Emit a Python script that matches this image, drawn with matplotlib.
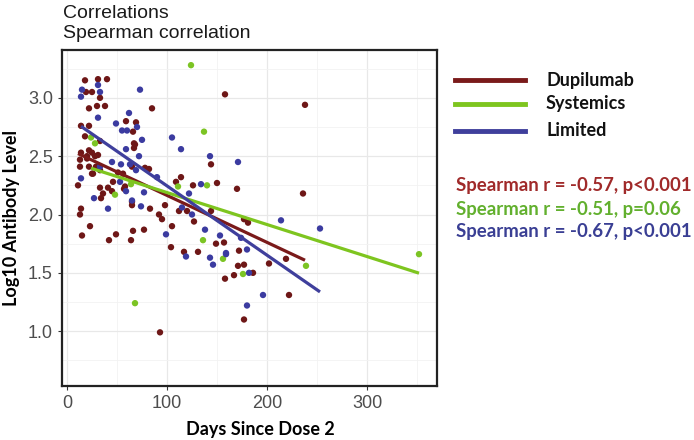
import numpy as np
import matplotlib
matplotlib.use("Agg")
import matplotlib.pyplot as plt
from matplotlib.ticker import MultipleLocator

# Dupilumab
dup_x = [18, 31, 40, 19, 25, 33, 22, 30, 38, 85, 14, 22, 59, 69, 66, 68, 67, 18, 33, 67,
         22, 25, 20, 28, 31, 14, 13, 13, 20, 22, 25, 29, 33, 26,
         11, 33, 41, 46, 45, 36, 34, 58, 51, 56, 65, 78, 82, 57,
         65, 65, 83, 98, 92, 95, 105, 14, 13, 23, 15, 49, 66, 77, 42, 64, 104, 109, 93,
         158, 238, 144, 114, 126, 150, 170, 236, 112, 120, 144, 127, 177, 181, 149, 157,
         117, 131, 172, 202, 219, 222, 177, 171, 177, 186, 158, 167]
dup_y = [3.15, 3.16, 3.16, 3.05, 3.05, 3.00, 2.91, 2.93, 2.93, 2.91, 2.76, 2.76, 2.80, 2.79, 2.71, 2.60, 2.57, 2.67, 2.63, 2.61,
         2.55, 2.53, 2.50, 2.50, 2.51, 2.53, 2.47, 2.41, 2.48, 2.41, 2.35, 2.41, 2.38, 2.35,
         2.25, 2.23, 2.23, 2.28, 2.20, 2.18, 2.14, 2.24, 2.36, 2.35, 2.41, 2.40, 2.39, 2.22,
         2.11, 2.08, 2.05, 2.08, 2.00, 1.96, 1.90, 2.05, 2.00, 1.90, 1.82, 1.83, 1.86, 1.87, 1.78, 1.78, 1.72, 2.28, 0.99,
         3.03, 2.94, 2.43, 2.32, 2.25, 2.27, 2.22, 2.18, 2.03, 2.03, 2.03, 1.94, 1.96, 1.93, 1.75, 1.76,
         1.68, 1.68, 1.69, 1.58, 1.62, 1.31, 1.10, 1.56, 1.57, 1.50, 1.45, 1.48]

# Systemics
sys_x = [124, 137, 28, 24, 64, 48, 111, 140, 136, 156, 176, 239, 352, 68]
sys_y = [3.28, 2.71, 2.61, 2.66, 2.26, 2.17, 2.24, 2.25, 1.78, 1.62, 1.49, 1.56, 1.66, 1.24]

# Limited
lim_x = [15, 14, 31, 33, 73, 31, 62, 49, 55, 60, 70, 75, 105, 114, 59, 72, 143,
         14, 27, 41, 53, 59, 65, 74, 77, 99, 45, 54, 69, 33, 90, 115, 63,
         171, 134, 122, 125, 214, 138, 153, 174, 159, 180, 253, 196, 180, 182, 146, 143, 159, 119]
lim_y = [3.07, 3.01, 3.11, 3.05, 3.07, 2.83, 2.87, 2.78, 2.72, 2.72, 2.75, 2.64, 2.66, 2.56, 2.56, 2.50, 2.50,
         2.31, 2.14, 2.05, 2.28, 2.20, 2.12, 2.07, 2.19, 1.83, 2.45, 2.43, 2.38, 2.41, 2.32, 2.06, 2.43,
         2.45, 2.26, 2.18, 2.00, 1.95, 1.87, 1.82, 1.80, 1.67, 1.70, 1.88, 1.31, 1.22, 1.50, 1.57, 1.63, 1.66, 1.64]

groups = ["Dupilumab", "Systemics", "Limited"]
stats = ["Spearman r = -0.57, p<0.001", "Spearman r = -0.51, p=0.06", "Spearman r = -0.67, p<0.001"]

pt_colors = ["#6e1717", "#7cc424", "#3b3ba0"]
line_colors = ["#7a1a1a", "#7ec51f", "#3f3f9c"]
text_colors = ["#a02a2a", "#62b02e", "#3a3f94"]

fig = plt.figure(figsize=(6.94, 4.4), dpi=100)
ax = fig.add_axes([62 / 694, 54 / 440, 375 / 694, 336 / 440])

data = [(dup_x, dup_y), (sys_x, sys_y), (lim_x, lim_y)]
for (x, y), c in zip(data, pt_colors):
    ax.scatter(x, y, s=21, color=c, edgecolors="none", zorder=3)

# linear fit per group, drawn over its own x range
for (x, y), c in zip(data, line_colors):
    x = np.array(x, float)
    y = np.array(y, float)
    b, a = np.polyfit(x, y, 1)
    xs = np.array([x.min(), x.max()])
    ax.plot(xs, a + b * xs, color=c, lw=2.3, zorder=4, solid_capstyle="butt")

ax.set_xlim(-5, 370)
ax.set_ylim(0.53, 3.41)
ax.xaxis.set_major_locator(MultipleLocator(100))
ax.xaxis.set_minor_locator(MultipleLocator(50))
ax.yaxis.set_minor_locator(MultipleLocator(0.25))
ax.set_yticks([1.0, 1.5, 2.0, 2.5, 3.0])
ax.yaxis.set_major_formatter(matplotlib.ticker.FormatStrFormatter("%.1f"))
ax.grid(True, which="major", color="#e8e8e8", lw=0.9)
ax.grid(True, which="minor", color="#f2f2f2", lw=0.6)
ax.set_axisbelow(True)
for sp in ax.spines.values():
    sp.set_linewidth(1.6)
    sp.set_color("#222222")
ax.tick_params(which="major", length=3, width=0.8, color="#333333",
               labelsize=13, labelcolor="#4d4d4d")
ax.tick_params(which="minor", length=0)
for lab in ax.get_xticklabels() + ax.get_yticklabels():
    lab.set_family("Liberation Sans")

ax.set_xlabel("Days Since Dose 2", fontsize=13, fontweight="bold", family="Lato", labelpad=6)
ax.xaxis.set_label_coords(0.528, -0.105)
ax.set_ylabel("Log10 Antibody Level", fontsize=13, fontweight="bold", family="Lato", labelpad=6)

fig.text(63 / 694, 1 - 13 / 440, "Correlations", fontsize=14, family="Liberation Sans",
         color="#1a1a1a", va="center")
fig.text(63 / 694, 1 - 33 / 440, "Spearman correlation", fontsize=14, family="Liberation Sans",
         color="#1a1a1a", va="center")

# legend
for i, (g, c) in enumerate(zip(groups, line_colors)):
    yy = 1 - [80, 104, 131][i] / 440
    fig.add_artist(plt.Line2D([455 / 694, 525 / 694], [yy, yy], color=c, lw=3.5,
                              transform=fig.transFigure))
    fig.text(546 / 694, yy, g, fontsize=13, fontweight="bold", family="Lato",
             color="#111111", va="center")

for i, (s, c) in enumerate(zip(stats, text_colors)):
    yy = 1 - [185, 209, 232][i] / 440
    fig.text(456 / 694, yy, s, fontsize=13.4, fontweight="bold", family="Lato",
             color=c, va="center")

fig.savefig("out.png", dpi=100)
